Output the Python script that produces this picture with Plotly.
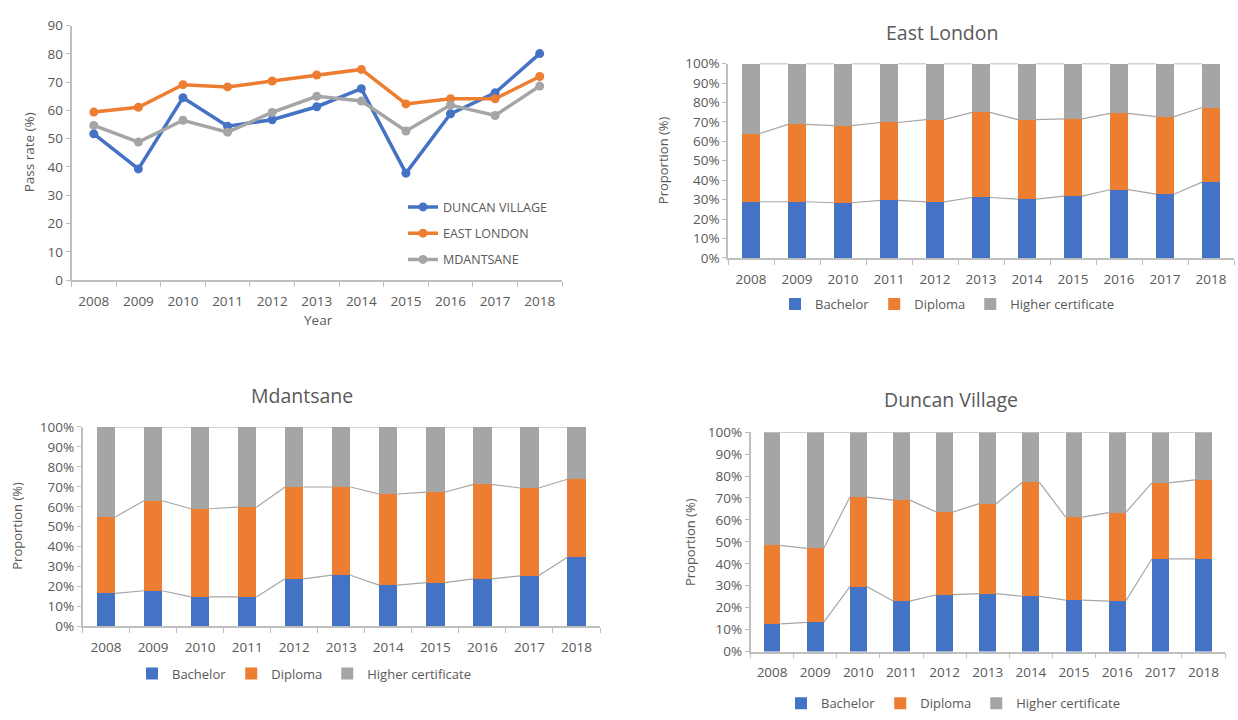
import numpy as np
import plotly.graph_objects as go

W, H = 1238, 720

years = [2008, 2009, 2010, 2011, 2012, 2013, 2014, 2015, 2016, 2017, 2018]

# Pass rates (%)
pass_duncan = [51.7, 39.3, 64.5, 54.4, 56.7, 61.3, 67.7, 37.8, 58.8, 66.2, 80.1]
pass_east = [59.4, 61.1, 69.1, 68.3, 70.4, 72.5, 74.5, 62.3, 64.1, 64.1, 72.0]
pass_mdant = [54.7, 48.8, 56.5, 52.3, 59.3, 65.0, 63.3, 52.7, 61.9, 58.2, 68.6]

# Proportions (%) by qualification
el_bachelor = [28.9, 28.9, 28.4, 29.6, 28.8, 31.1, 30.3, 31.8, 35.1, 32.8, 39.0]
el_diploma = [35.1, 39.8, 39.7, 40.1, 42.4, 43.8, 40.9, 39.8, 39.3, 39.9, 38.4]
el_higher = [36.0, 31.3, 31.9, 30.3, 28.8, 25.1, 28.8, 28.4, 25.6, 27.3, 22.6]

md_bachelor = [16.6, 17.9, 14.8, 14.8, 23.9, 25.7, 20.7, 22.0, 23.9, 25.4, 34.7]
md_diploma = [38.3, 45.1, 44.2, 45.0, 46.0, 44.2, 45.7, 45.3, 47.3, 44.0, 39.1]
md_higher = [45.1, 37.0, 41.0, 40.2, 30.1, 30.1, 33.6, 32.7, 28.8, 30.6, 26.2]

dv_bachelor = [12.6, 13.3, 29.6, 23.0, 25.9, 26.4, 25.2, 23.4, 23.0, 42.2, 42.2]
dv_diploma = [35.8, 33.7, 40.8, 46.0, 37.7, 41.0, 52.0, 37.9, 40.3, 34.7, 36.0]
dv_higher = [51.6, 53.0, 29.6, 31.0, 36.4, 32.6, 22.8, 38.7, 36.7, 23.1, 21.8]

y_ticks_pass = [0, 10, 20, 30, 40, 50, 60, 70, 80, 90]
y_ticks_prop = [0, 10, 20, 30, 40, 50, 60, 70, 80, 90, 100]
y_labels_prop = [f"{v}%" for v in y_ticks_prop]

BLUE, ORANGE, GRAY = "#4472C4", "#ED7D31", "#A5A5A5"
TXT = "#595959"
AX = "#BFBFBF"
FONT = "Open Sans"
BAR_W = 0.39
TICK_FS = 13.5


def fx(px):
    return px / W


def fy(py):
    return 1 - py / H


def dom_x(a, b):
    return [fx(a), min(fx(b), 1.0)]


def dom_y(top, bottom):
    return [fy(bottom), fy(top)]


fig = go.Figure()

# ---- line chart ----
for name, vals, col in [("DUNCAN VILLAGE", pass_duncan, BLUE),
                        ("EAST LONDON", pass_east, ORANGE),
                        ("MDANTSANE", pass_mdant, GRAY)]:
    fig.add_trace(go.Scatter(x=years, y=vals, name=name, mode="lines+markers",
                             line=dict(color=col, width=3.5),
                             marker=dict(color=col, size=9),
                             xaxis="x", yaxis="y", legend="legend",
                             legendgroup=name))

panels = [
    ("x2", "y2", "legend2", el_bachelor, el_diploma, el_higher),
    ("x3", "y3", "legend3", md_bachelor, md_diploma, md_higher),
    ("x4", "y4", "legend4", dv_bachelor, dv_diploma, dv_higher),
]

for xa, ya, lg, bach, dip, hig in panels:
    for name, vals, col in [("Bachelor", bach, BLUE), ("Diploma", dip, ORANGE),
                            ("Higher certificate", hig, GRAY)]:
        fig.add_trace(go.Bar(x=years, y=vals, name=name, marker=dict(color=col, line=dict(width=0)),
                             width=BAR_W, xaxis=xa, yaxis=ya, legend=lg))
    cum1 = np.array(bach)
    cum2 = cum1 + np.array(dip)
    cum3 = cum2 + np.array(hig)
    for cum in (cum1, cum2, cum3):
        sx, sy = [], []
        for i in range(len(years) - 1):
            sx += [years[i] + BAR_W / 2, years[i + 1] - BAR_W / 2, None]
            sy += [cum[i], cum[i + 1], None]
        fig.add_trace(go.Scatter(x=sx, y=sy, mode="lines", line=dict(color="#A6A6A6", width=1.2),
                                 showlegend=False, hoverinfo="skip", cliponaxis=False,
                                 xaxis=xa, yaxis=ya))

boundaries = [y - 0.5 for y in years] + [years[-1] + 0.5]


def xaxis_cfg(domain, anchor):
    return dict(domain=domain, anchor=anchor, range=[years[0] - 0.5, years[-1] + 0.5],
                tickvals=years, ticktext=[str(y) for y in years],
                ticks="outside", ticklen=8, tickcolor="rgba(0,0,0,0)",
                showline=True, linecolor=AX, linewidth=1.5, showgrid=False, zeroline=False,
                tickfont=dict(size=TICK_FS, color=TXT, family=FONT),
                minor=dict(tickvals=boundaries, ticks="outside", ticklen=5, tickcolor=AX,
                           showgrid=False),
                fixedrange=True)


def yaxis_cfg(domain, anchor, rng, ticks, labels):
    return dict(domain=domain, anchor=anchor, range=rng, tickvals=ticks, ticktext=labels,
                ticks="outside", ticklen=4, tickcolor=AX, showline=True, linecolor=AX,
                linewidth=1.5, showgrid=False, zeroline=False,
                tickfont=dict(size=TICK_FS, color=TXT, family=FONT), fixedrange=True)


def bar_legend(cx, cy):
    return dict(orientation="h", x=fx(cx), y=fy(cy), xanchor="center", yanchor="middle",
                traceorder="normal", itemwidth=30,
                font=dict(size=13, color=TXT, family=FONT), bgcolor="rgba(0,0,0,0)")


layout = dict(
    width=W, height=H, margin=dict(l=0, r=0, t=0, b=0),
    paper_bgcolor="white", plot_bgcolor="white",
    barmode="stack", font=dict(family=FONT, color=TXT, size=12),
    xaxis=xaxis_cfg(dom_x(71.5, 562), "y"),
    yaxis=yaxis_cfg(dom_y(17, 278), "x", [0, 90], y_ticks_pass, [str(v) for v in y_ticks_pass]),
    xaxis2=xaxis_cfg(dom_x(728, 1234), "y2"),
    yaxis2=yaxis_cfg(dom_y(56, 255.3), "x2", [0, 100], y_ticks_prop, y_labels_prop),
    xaxis3=xaxis_cfg(dom_x(82.5, 600), "y3"),
    yaxis3=yaxis_cfg(dom_y(428.7, 633.3), "x3", [0, 100], y_ticks_prop, y_labels_prop),
    xaxis4=xaxis_cfg(dom_x(750.5, 1225), "y4"),
    yaxis4=yaxis_cfg(dom_y(434, 659), "x4", [0, 100], y_ticks_prop, y_labels_prop),
    legend=dict(x=fx(403), y=fy(188), xanchor="left", yanchor="top",
                tracegroupgap=7, bgcolor="rgba(0,0,0,0)", itemwidth=30,
                font=dict(size=12.5, color=TXT, family=FONT)),
    legend2=bar_legend(947, 302.7),
    legend3=bar_legend(304, 681.7),
    legend4=bar_legend(953, 712),
    showlegend=True,
)
fig.update_layout(**layout)


def ann(text, px, py, size=12, angle=0):
    fig.add_annotation(text=text, x=fx(px), y=fy(py), xref="paper", yref="paper",
                       showarrow=False, textangle=angle, xanchor="center", yanchor="middle",
                       font=dict(size=size, color=TXT, family=FONT))


ann("Year", 318, 319, 13.5)
ann("Pass rate (%)", 29, 147, 13.5, -90)
ann("East London", 942, 24, 19.5)
ann("Proportion (%)", 663, 155, 13, -90)
ann("Mdantsane", 302, 396.7, 19.5)
ann("Proportion (%)", 17, 530, 13, -90)
ann("Duncan Village", 951, 400, 19.5)
ann("Proportion (%)", 690, 546.7, 13, -90)

fig.write_html("out.html", config={"displayModeBar": False},
               post_script="document.body.style.margin='0px';document.body.style.overflow='hidden';")
